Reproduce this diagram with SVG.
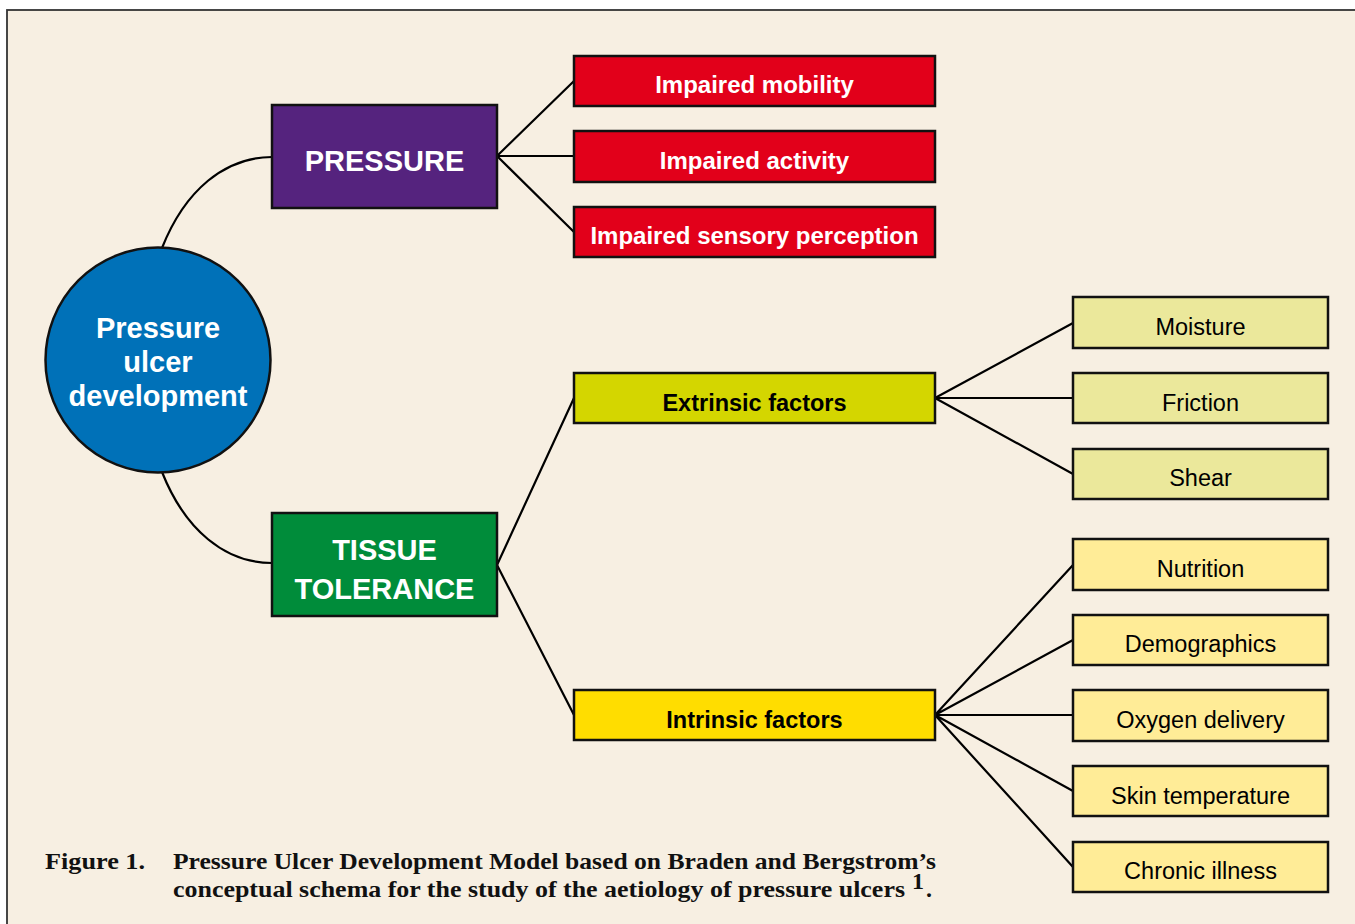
<svg xmlns="http://www.w3.org/2000/svg" width="1355" height="924" viewBox="0 0 1355 924">
<style>
.box{stroke:#111;stroke-width:2.5}
.wb{font-family:"Liberation Sans",Arial,sans-serif;font-weight:bold;fill:#fff;text-anchor:middle}
.bb{font-family:"Liberation Sans",Arial,sans-serif;font-weight:bold;fill:#000;text-anchor:middle;font-size:23.5px}
.rt{font-family:"Liberation Sans",Arial,sans-serif;fill:#000;text-anchor:middle;font-size:23.5px}
.con{fill:none;stroke:#000;stroke-width:2.2}
.cap{font-family:"Liberation Serif","Times New Roman",serif;font-weight:bold;fill:#111;font-size:24px}
</style>
<rect x="0" y="0" width="1355" height="924" fill="#fff"/>
<rect x="7" y="10" width="1360" height="930" fill="#F7EFE2" stroke="#333" stroke-width="1.8"/>
<g id="connectors">
<path class="con" d="M162,248 C185,190 225,157 272,157"/>
<path class="con" d="M162,472 C185,530 225,563 272,563"/>
<path class="con" d="M497,156 L574,81 M497,156 L574,156 M497,156 L574,232"/>
<path class="con" d="M497,565 L574,398 M497,565 L574,715"/>
<path class="con" d="M935,398 L1073,323 M935,398 L1073,398 M935,398 L1073,474"/>
<path class="con" d="M935,715 L1073,565 M935,715 L1073,640 M935,715 L1073,715 M935,715 L1073,791 M935,715 L1073,867"/>
</g>
<g id="center">
<circle class="box" cx="158" cy="360" r="112.5" fill="#0071B8"/>
<text class="wb" font-size="29" x="158" y="338">Pressure</text>
<text class="wb" font-size="29" x="158" y="372">ulcer</text>
<text class="wb" font-size="29" x="158" y="406">development</text>
</g>
<g id="pressure">
<rect class="box" x="272" y="105" width="225" height="103" fill="#55237E"/>
<text class="wb" font-size="29" x="384.5" y="171">PRESSURE</text>
</g>
<g id="tissue">
<rect class="box" x="272" y="513" width="225" height="103" fill="#008C3A"/>
<text class="wb" font-size="29" x="384.5" y="560">TISSUE</text>
<text class="wb" font-size="29" x="384.5" y="599">TOLERANCE</text>
</g>
<g id="mobility">
<rect class="box" x="574" y="56" width="361" height="50" fill="#E2001A"/>
<text class="wb" font-size="24" x="754.5" y="93">Impaired mobility</text>
</g>
<g id="activity">
<rect class="box" x="574" y="131" width="361" height="51" fill="#E2001A"/>
<text class="wb" font-size="24" x="754.5" y="169">Impaired activity</text>
</g>
<g id="sensory">
<rect class="box" x="574" y="207" width="361" height="50" fill="#E2001A"/>
<text class="wb" font-size="24" x="754.5" y="244">Impaired sensory perception</text>
</g>
<g id="extrinsic">
<rect class="box" x="574" y="373" width="361" height="50" fill="#D4D600"/>
<text class="bb" x="754.5" y="411">Extrinsic factors</text>
</g>
<g id="intrinsic">
<rect class="box" x="574" y="690" width="361" height="50" fill="#FFDD00"/>
<text class="bb" x="754.5" y="728">Intrinsic factors</text>
</g>
<g id="moisture">
<rect class="box" x="1073" y="297" width="255" height="51" fill="#EBE89B"/>
<text class="rt" x="1200.5" y="335">Moisture</text>
</g>
<g id="friction">
<rect class="box" x="1073" y="373" width="255" height="50" fill="#EBE89B"/>
<text class="rt" x="1200.5" y="411">Friction</text>
</g>
<g id="shear">
<rect class="box" x="1073" y="449" width="255" height="50" fill="#EBE89B"/>
<text class="rt" x="1200.5" y="486">Shear</text>
</g>
<g id="nutrition">
<rect class="box" x="1073" y="539" width="255" height="51" fill="#FFEC97"/>
<text class="rt" x="1200.5" y="577">Nutrition</text>
</g>
<g id="demographics">
<rect class="box" x="1073" y="615" width="255" height="50" fill="#FFEC97"/>
<text class="rt" x="1200.5" y="652">Demographics</text>
</g>
<g id="oxygen">
<rect class="box" x="1073" y="690" width="255" height="51" fill="#FFEC97"/>
<text class="rt" x="1200.5" y="728">Oxygen delivery</text>
</g>
<g id="skin">
<rect class="box" x="1073" y="766" width="255" height="50" fill="#FFEC97"/>
<text class="rt" x="1200.5" y="804">Skin temperature</text>
</g>
<g id="chronic">
<rect class="box" x="1073" y="842" width="255" height="50" fill="#FFEC97"/>
<text class="rt" x="1200.5" y="879">Chronic illness</text>
</g>
<g id="caption">
<text class="cap" x="45" y="869" textLength="100" lengthAdjust="spacingAndGlyphs">Figure 1.</text>
<text class="cap" x="173" y="869" textLength="763" lengthAdjust="spacingAndGlyphs">Pressure Ulcer Development Model based on Braden and Bergstrom’s</text>
<text class="cap" x="173" y="897" textLength="732" lengthAdjust="spacingAndGlyphs">conceptual schema for the study of the aetiology of pressure ulcers</text>
<text class="cap" x="912" y="889" font-size="22">1</text>
<text class="cap" x="926" y="897">.</text>
</g>
</svg>
